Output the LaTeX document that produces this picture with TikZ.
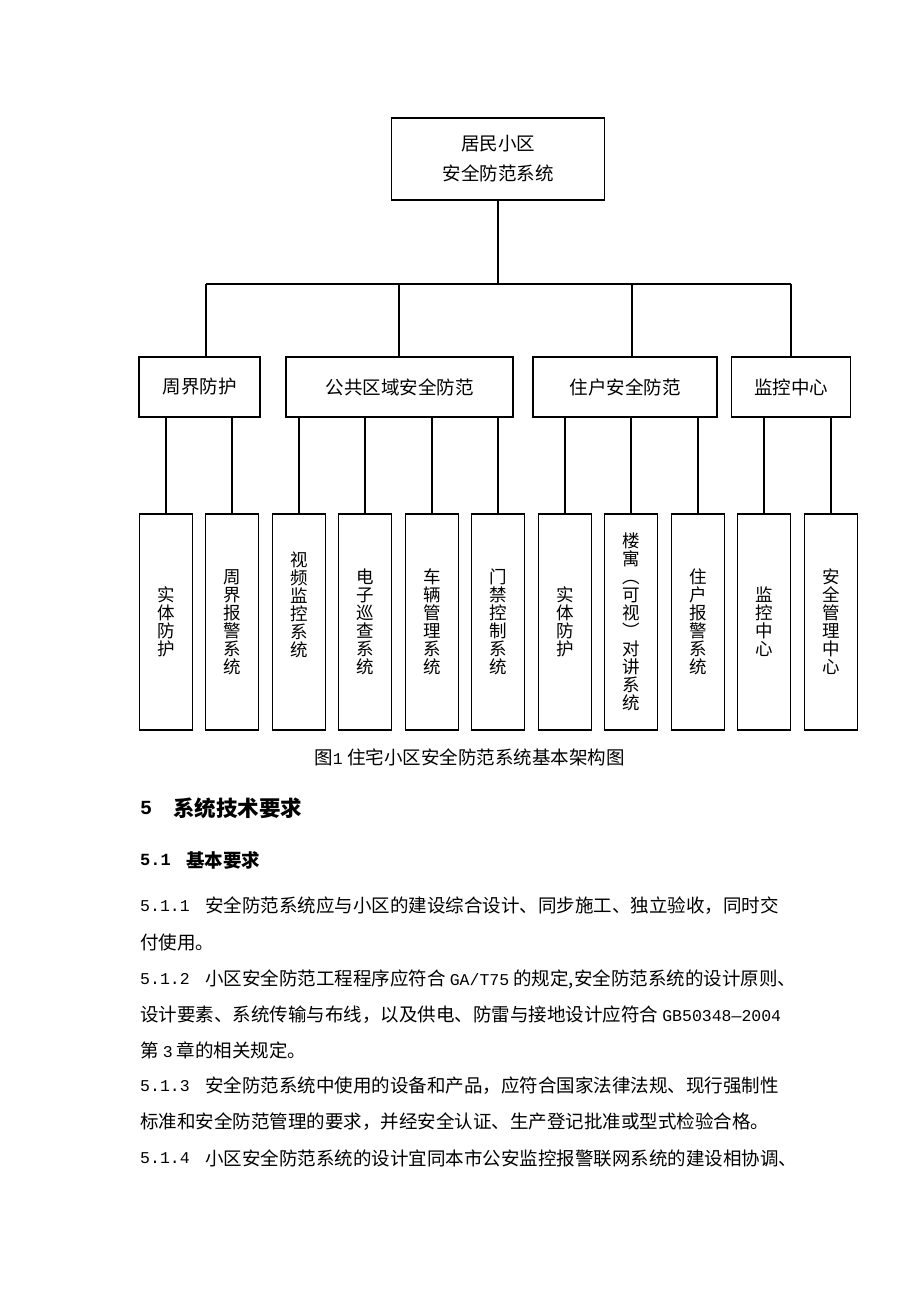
\documentclass[tikz,border=0pt]{standalone}
\usepackage{fontspec}
\setmainfont{Noto Sans CJK SC}
\newfontfamily\mono{Liberation Mono}
\newcommand\lat[1]{{\mono\fontsize{16.5}{16.5}\selectfont #1}}
\begin{document}
\begin{tikzpicture}[x=1pt,y=-1pt,
  box/.style={draw=black, line width=1.3pt, inner sep=0pt, align=center, font=\fontsize{18.5}{30}\selectfont},
  leaf/.style={draw=black, line width=1.3pt, inner sep=0pt, minimum width=53pt, minimum height=216pt, align=center, font=\fontsize{17.5}{18}\selectfont},
  wire/.style={draw=black, line width=1.3pt},
  txt/.style={anchor=west, inner sep=0pt, font=\fontsize{18.5}{18.5}\selectfont},
  num/.style={anchor=west, inner sep=0pt, font=\mono\fontsize{16.5}{16.5}\selectfont}]
\fill[white] (0,0) rectangle (920,1302);
\useasboundingbox (0,0) rectangle (920,1302);

% root
\node[box, minimum width=213pt, minimum height=82pt] (root) at (498,159) {居民小区\\安全防范系统};

% level 2
\node[box, minimum width=121pt, minimum height=60pt] (p1) at (199.5,387) {周界防护};
\node[box, minimum width=227pt, minimum height=60pt] (p2) at (399.5,387) {公共区域安全防范};
\node[box, minimum width=184pt, minimum height=60pt] (p3) at (625,387) {住户安全防范};
\node[box, minimum width=119pt, minimum height=60pt] (p4) at (791,387) {监控中心};

% bus
\coordinate (bus) at (498,284);
\coordinate (d1) at (206,284);
\coordinate (d2) at (399,284);
\coordinate (d3) at (632,284);
\coordinate (d4) at (791,284);
\draw[wire] (root.south) -- (bus);
\draw[wire] (d1) -- (d4);
\draw[wire] (d1) -- (d1 |- p1.north);
\draw[wire] (d2) -- (d2 |- p2.north);
\draw[wire] (d3) -- (d3 |- p3.north);
\draw[wire] (d4) -- (d4 |- p4.north);

% leaves
\node[leaf] (l1) at (166,622) {实\\体\\防\\护};
\node[leaf] (l2) at (232,622) {周\\界\\报\\警\\系\\统};
\node[leaf] (l3) at (299,622) {视\\频\\监\\控\\系\\统\\ \mbox{}\\ \mbox{}};
\node[leaf] (l4) at (365,622) {电\\子\\巡\\查\\系\\统};
\node[leaf] (l5) at (432,622) {车\\辆\\管\\理\\系\\统};
\node[leaf] (l6) at (498,622) {门\\禁\\控\\制\\系\\统};
\node[leaf] (l7) at (565,622) {实\\体\\防\\护};
\node[leaf] (l8) at (631,622) {楼\\寓\\︵\\可\\视\\︶\\对\\讲\\系\\统};
\node[leaf] (l9) at (698,622) {住\\户\\报\\警\\系\\统};
\node[leaf] (l10) at (764,622) {监\\控\\中\\心};
\node[leaf] (l11) at (831,622) {安\\全\\管\\理\\中\\心};

\foreach \l/\p in {l1/p1,l2/p1,l3/p2,l4/p2,l5/p2,l6/p2,l7/p3,l8/p3,l9/p3,l10/p4,l11/p4}
  \draw[wire] (\l.north |- \p.south) -- (\l.north);

% caption
\node[inner sep=0pt, font=\fontsize{18.5}{18.5}\selectfont] (cap) at (469.5,757) {图\lat{1} 住宅小区安全防范系统基本架构图};

% headings
\node[num, font=\mono\bfseries\fontsize{20}{20}\selectfont] (h5n) at (140,808) {5};
\node[txt, font=\bfseries\fontsize{21.5}{21.5}\selectfont] (h5) at (173,808) {系统技术要求};
\node[num, font=\mono\bfseries\fontsize{17}{17}\selectfont] (h51n) at (140,860) {5.1};
\node[txt, font=\bfseries\fontsize{18.5}{18.5}\selectfont] (h51) at (186,860) {基本要求};

% paragraphs
\node[num] (n1) at (140,906) {5.1.1};
\node[txt] (t1) at (205,906) {安全防范系统应与小区的建设综合设计、同步施工、独立验收，同时交};
\node[txt] (t1b) at (140,942) {付使用。};
\node[num] (n2) at (140,979) {5.1.2};
\node[txt] (t2) at (205,979) {小区安全防范工程程序应符合 \lat{GA/T75} 的规定,安全防范系统的设计原则、};
\node[txt] (t2b) at (140,1015) {设计要素、系统传输与布线，以及供电、防雷与接地设计应符合 \lat{GB50348—2004}};
\node[txt] (t2c) at (140,1050) {第 \lat{3} 章的相关规定。};
\node[num] (n3) at (140,1086) {5.1.3};
\node[txt] (t3) at (205,1086) {安全防范系统中使用的设备和产品，应符合国家法律法规、现行强制性};
\node[txt] (t3b) at (140,1122) {标准和安全防范管理的要求，并经安全认证、生产登记批准或型式检验合格。};
\node[num] (n4) at (140,1158) {5.1.4};
\node[txt] (t4) at (205,1158) {小区安全防范系统的设计宜同本市公安监控报警联网系统的建设相协调、};
\end{tikzpicture}
\end{document}
